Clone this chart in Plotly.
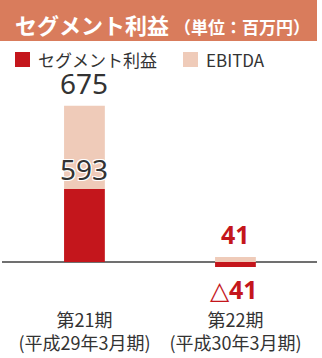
import plotly.graph_objects as go

# Segment profit and EBITDA by fiscal period (millions of yen)
periods = ["第21期<br>(平成29年3月期)", "第22期<br>(平成30年3月期)"]
segment_profit = [593, -41]
ebitda = [675, 41]
series_names = ["セグメント利益", "EBITDA"]

RED = "#C4161C"
PEACH = "#EFCBB9"
HEADER = "#D97C5C"
INK = "#333333"
JP = "Noto Sans CJK JP"

W, H = 322, 358
ML, MR, MT, MB = 2, 5, 80, 50
PW, PH = W - ML - MR, H - MT - MB


def px_x(x):
    return (x - ML) / PW


def px_y(y):
    return (H - MB - y) / PH


def fmt(v):
    return f"△{abs(v)}" if v < 0 else f"{v}"


x_idx = list(range(len(periods)))

fig = go.Figure()
fig.add_trace(go.Bar(x=x_idx, y=segment_profit, name=series_names[0],
                     marker=dict(color=RED, line=dict(width=0)), width=0.27))
fig.add_trace(go.Bar(x=x_idx, y=ebitda, name=series_names[1],
                     marker=dict(color=PEACH, line=dict(width=0)), width=0.27))

annotations = []
# first period: stacked values, labels at the segment boundary and the top
top0 = segment_profit[0] + ebitda[0]
annotations.append(dict(x=0, y=top0, text=fmt(ebitda[0]), showarrow=False,
                        yanchor="bottom", yshift=2,
                        font=dict(family="Noto Sans", size=28, color=INK)))
annotations.append(dict(x=0, y=segment_profit[0], text=fmt(segment_profit[0]),
                        showarrow=False, yanchor="middle", yshift=20,
                        font=dict(family="Noto Sans", size=28, color=INK,
                                  shadow="1px 1px 0 #fff, -1px -1px 0 #fff, 1px -1px 0 #fff, -1px 1px 0 #fff")))
# second period: EBITDA above zero, negative profit below
annotations.append(dict(x=1, y=ebitda[1], text=f"<b>{fmt(ebitda[1])}</b>", showarrow=False,
                        yanchor="bottom", yshift=4,
                        font=dict(family="Noto Sans", size=25, color=RED)))
annotations.append(dict(x=1, y=segment_profit[1], xshift=-1,
                        text=f"<span style='font-weight:normal;font-size:25px'>△</span><b>{abs(segment_profit[1])}</b>",
                        showarrow=False, yanchor="top", yshift=-3,
                        font=dict(family="Noto Sans", size=25, color=RED)))

# header band title
annotations.append(dict(xref="paper", yref="paper", x=px_x(13), y=px_y(24),
                        xanchor="left", yanchor="middle", showarrow=False,
                        text="<b>セグメント利益</b> <span style='font-size:17px'><b>（単位：百万円）</b></span>",
                        font=dict(family=JP, size=22, color="white")))

shapes = [dict(type="rect", xref="paper", yref="paper", x0=px_x(0), x1=px_x(317),
               y0=px_y(41), y1=px_y(0), fillcolor=HEADER, line=dict(width=0), layer="below")]

# legend row: swatch + name for each series
legend_x = [15, 183]
for name, color, lx in zip(series_names, [RED, PEACH], legend_x):
    shapes.append(dict(type="rect", xref="paper", yref="paper",
                       x0=px_x(lx), x1=px_x(lx + 15), y0=px_y(67), y1=px_y(52),
                       fillcolor=color, line=dict(width=0)))
    annotations.append(dict(xref="paper", yref="paper", x=px_x(lx + 21), y=px_y(60),
                            xanchor="left", yanchor="middle", showarrow=False, text=name,
                            font=dict(family=JP, size=17, color=INK)))

fig.update_layout(
    width=W, height=H,
    margin=dict(l=ML, r=MR, t=MT, b=MB),
    paper_bgcolor="white", plot_bgcolor="white",
    barmode="relative",
    showlegend=False,
    xaxis=dict(range=[-0.546, 1.54], tickmode="array", tickvals=x_idx, ticktext=periods,
               showgrid=False, zeroline=False, showline=False, ticks="",
               tickfont=dict(family=JP, size=18, color=INK)),
    yaxis=dict(range=[-374, 1478], showgrid=False, zeroline=True, zerolinecolor="#707070",
               zerolinewidth=1.5, showticklabels=False, showline=False),
    annotations=annotations,
    shapes=shapes,
    font=dict(family=JP),
)

fig.write_html("out.html")
